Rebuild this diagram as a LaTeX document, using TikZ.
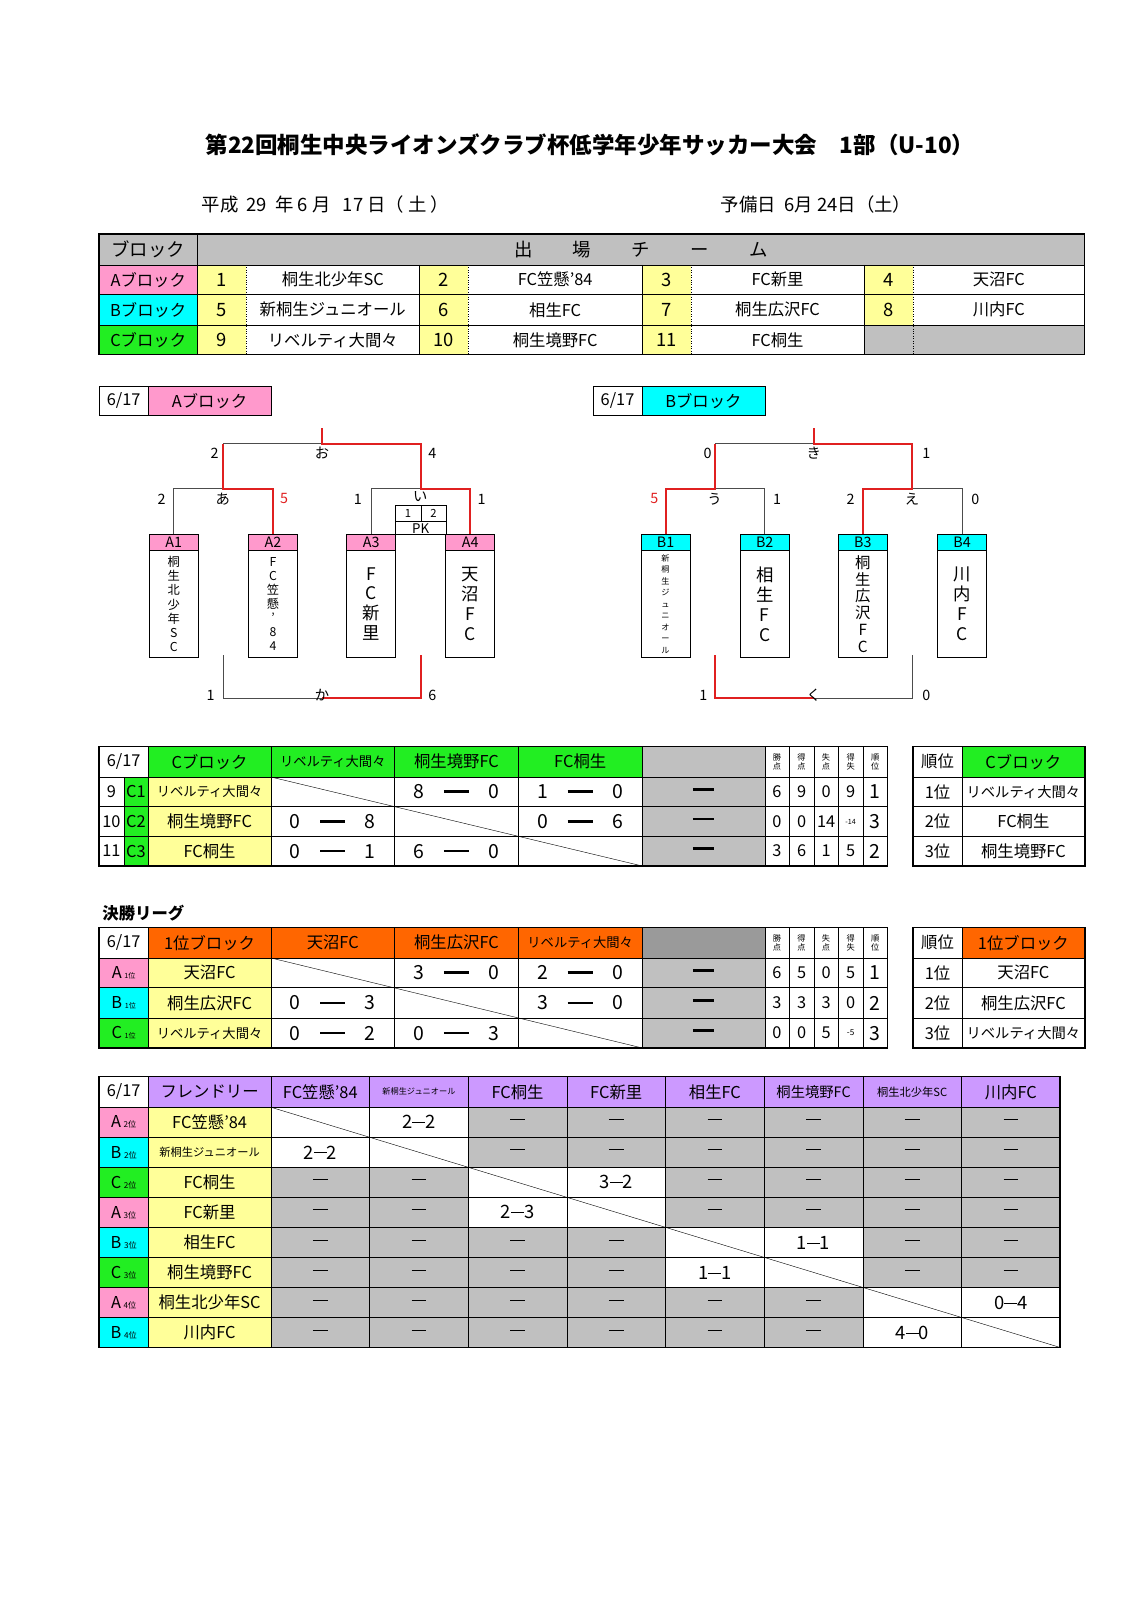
\documentclass[tikz,border=0pt]{standalone}
\usepackage{fontspec}
\setmainfont{Noto Sans CJK JP}
\usetikzlibrary{positioning}
\definecolor{pinkA}{HTML}{FF99CC}
\definecolor{cyanB}{HTML}{00FFFF}
\definecolor{greenC}{HTML}{22EE22}
\definecolor{yel}{HTML}{FFFF99}
\definecolor{gry}{HTML}{C0C0C0}
\definecolor{dgry}{HTML}{9A9A9A}
\definecolor{org}{HTML}{FF6600}
\definecolor{purp}{HTML}{CC99FF}
\definecolor{redL}{HTML}{E02020}
\tikzset{
  txt/.style={inner sep=0pt, font=\fontsize{16}{18}\selectfont},
  sml/.style={inner sep=0pt, font=\fontsize{11}{12}\selectfont},
  wire/.style={draw=black!70, line width=0.9pt},
  win/.style={draw=redL, line width=2pt},
  teamhead/.style={draw, thick, fill=#1, minimum width=48pt, minimum height=15pt, inner sep=0pt, font=\fontsize{14}{14}\selectfont},
  teambody/.style={draw, thick, minimum width=48pt, minimum height=104pt, inner sep=0pt, align=center},
  outer/.style={draw, line width=1.4pt}
}
% cell: x1 y1 x2 y2 fill text
\newcommand\cel[6]{\filldraw[fill=#5, draw=black, thin] (#1,#2) rectangle (#3,#4);
  \node[txt] at ({(#1+#3)/2},{(#2+#4)/2}) {#6};}
\newcommand\bardash{\rule[0.3em]{1.3em}{2.4pt}}
\newcommand\sco[2]{\fontsize{19}{19}\selectfont #1\hspace{1em}\bardash\hspace{1em}#2}
\newcommand\fr[2]{\fontsize{18}{18}\selectfont #1\rule[0.3em]{0.7em}{1pt}#2}
\newcommand\lite{\rule[0.3em]{0.9em}{1pt}}
\newcommand\rk[1]{#1\,{\fontsize{7}{7}\selectfont 1位}}
\begin{document}
\begin{tikzpicture}[x=1pt, y=-1pt]
  \useasboundingbox (0,0) rectangle (1106,1565);

  % title and date
  \node[font=\fontsize{22}{24}\selectfont\bfseries] (title) at (577,142) {第22回桐生中央ライオンズクラブ杯低学年少年サッカー大会　1部（U-10）};
  \node[txt, anchor=west, font=\fontsize{18}{20}\selectfont] (date) at (197,200) {平成\ \ 29\ \ 年 6 月\ \ \ 17 日（ 土 ）};
  \node[txt, anchor=west, font=\fontsize{18}{20}\selectfont] (spare) at (705,200) {予備日\ \ 6月 24日（土）};

  % entry table
  \fill[gry] (97,229) rectangle (1061,259);
  \node[txt, font=\fontsize{18}{20}\selectfont] (hblock) at (145,244) {ブロック};
  \node[txt, font=\fontsize{18}{20}\selectfont] (hteams) at (627,244) {出\hspace{2.2em}場\hspace{2.2em}チ\hspace{2.2em}ー\hspace{2.2em}ム};
  \foreach \ya/\yb/\lab/\col/\na/\nb/\nc/\nd/\ta/\tb/\tc/\td in {
      259/288/A/pinkA/1/2/3/4/桐生北少年SC/FC笠懸’84/FC新里/天沼FC,
      288/318/B/cyanB/5/6/7/8/新桐生ジュニオール/相生FC/桐生広沢FC/川内FC,
      318/347/C/greenC/9/10/11//リベルティ大間々/桐生境野FC/FC桐生/}{
    \fill[\col] (97,\ya) rectangle (193,\yb);
    \node[txt] at (145,{(\ya+\yb)/2}) {\lab ブロック};
    \foreach \xa/\xb/\xc/\n/\t in {193/241/410/\na/\ta, 410/458/628/\nb/\tb, 628/676/845/\nc/\tc, 845/893/1061/\nd/\td}{
      \fill[yel] (\xa,\ya) rectangle (\xb,\yb);
      \node[txt, font=\fontsize{18}{20}\selectfont] at ({(\xa+\xb)/2},{(\ya+\yb)/2}) {\n};
      \node[txt] at ({(\xb+\xc)/2},{(\ya+\yb)/2}) {\t};
    }
  }
  \fill[gry] (845,318) rectangle (1061,347);
  \foreach \y in {259,288,318} \draw[thin] (97,\y) -- (1061,\y);
  \draw[thin] (193,229) -- (193,347);
  \foreach \x in {410,628,845} \draw[thin] (\x,259) -- (\x,347);
  \foreach \x in {241,458,676,893} \draw[thin, dotted] (\x,259) -- (\x,347);
  \draw[outer] (97,229) rectangle (1061,347);

  % block A bracket
  \cel{97}{378}{145}{406}{white}{6/17}
  \cel{145}{378}{265}{406}{pinkA}{Aブロック}
  \node[teamhead=pinkA] (a1) at (170,530.5) {A1};
  \node[teamhead=pinkA] (a2) at (267,530.5) {A2};
  \node[teamhead=pinkA] (a3) at (363,530.5) {A3};
  \node[teamhead=pinkA] (a4) at (460,530.5) {A4};
  \node[teambody, below=0pt of a1, font=\fontsize{12}{13.8}\selectfont] (a1b) {桐\\生\\北\\少\\年\\S\\C};
  \node[teambody, below=0pt of a2, font=\fontsize{12}{13.8}\selectfont] (a2b) {F\\C\\笠\\懸\\’\\8\\4};
  \node[teambody, below=0pt of a3, font=\fontsize{17}{19.5}\selectfont] (a3b) {F\\C\\新\\里};
  \node[teambody, below=0pt of a4, font=\fontsize{17}{19.5}\selectfont] (a4b) {天\\沼\\F\\C};
  \draw[wire] (a1.north) |- (218.5,478);
  \draw[wire] (218.5,434) -- (315,434);
  \draw[wire] (a3.north) |- (411.5,478);
  \draw[wire] (218.5,641) -- (218.5,683) -- (315,683);
  \draw[win] (a2.north) |- (218.5,478) -- (218.5,434);
  \draw[win] (315,419) -- (315,434) -- (411.5,434) -- (411.5,478) -| (a4.north);
  \draw[win] (315,683) -- (411.5,683) -- (411.5,641);
  \draw[thin] (387,494) rectangle (436,523);
  \draw[thin] (387,510) -- (436,510) (411.5,494) -- (411.5,510);
  \node[sml] (pk1) at (399,502) {1};
  \node[sml] (pk2) at (424,502) {2};
  \node[sml, font=\fontsize{13}{13}\selectfont] (pk) at (411.5,517) {PK};
  \foreach \x/\y/\t in {210/443/2, 315/443/お, 423/443/4, 158/488/2, 218/488/あ,
      350/488/1, 411/486/い, 471/488/1, 206/680/1, 315/680/か, 423/680/6}
    \node[txt, font=\fontsize{14}{14}\selectfont] at (\x,\y) {\t};
  \node[txt, font=\fontsize{14}{14}\selectfont, text=redL] (a5) at (278,488) {5};

  % block B bracket
  \cel{580}{378}{628}{406}{white}{6/17}
  \cel{628}{378}{748}{406}{cyanB}{Bブロック}
  \node[teamhead=cyanB] (b1) at (651,530.5) {B1};
  \node[teamhead=cyanB] (b2) at (748,530.5) {B2};
  \node[teamhead=cyanB] (b3) at (844,530.5) {B3};
  \node[teamhead=cyanB] (b4) at (941,530.5) {B4};
  \node[teambody, below=0pt of b1, font=\fontsize{8}{11.2}\selectfont] (b1b) {新\\桐\\生\\ジ\\ュ\\ニ\\オ\\ー\\ル};
  \node[teambody, below=0pt of b2, font=\fontsize{17}{19.5}\selectfont] (b2b) {相\\生\\F\\C};
  \node[teambody, below=0pt of b3, font=\fontsize{15}{16.5}\selectfont] (b3b) {桐\\生\\広\\沢\\F\\C};
  \node[teambody, below=0pt of b4, font=\fontsize{17}{19.5}\selectfont] (b4b) {川\\内\\F\\C};
  \draw[wire] (b2.north) |- (699.5,478);
  \draw[wire] (b4.north) |- (892.5,478);
  \draw[wire] (699.5,434) -- (796,434);
  \draw[wire] (796,683) -- (892.5,683) -- (892.5,641);
  \draw[win] (b1.north) |- (699.5,478) -- (699.5,434);
  \draw[win] (796,419) -- (796,434) -- (892.5,434) -- (892.5,478) -| (b3.north);
  \draw[win] (699.5,641) -- (699.5,683) -- (796,683);
  \foreach \x/\y/\t in {692/443/0, 796/443/き, 906/443/1, 699/488/う, 760/488/1,
      832/488/2, 892/488/え, 954/488/0, 688/680/1, 796/680/く, 906/680/0}
    \node[txt, font=\fontsize{14}{14}\selectfont] at (\x,\y) {\t};
  \node[txt, font=\fontsize{14}{14}\selectfont, text=redL] (b5) at (640,488) {5};

  % block C league
  \cel{97}{730}{145}{760}{white}{6/17}
  \cel{145}{730}{265}{760}{greenC}{Cブロック}
  \cel{265}{730}{386}{760}{greenC}{\fontsize{13}{13}\selectfont リベルティ大間々}
  \cel{386}{730}{507}{760}{greenC}{桐生境野FC}
  \cel{507}{730}{628}{760}{greenC}{FC桐生}
  \cel{628}{730}{748}{760}{gry}{}
  \foreach \x/\t [count=\k] in {748/勝\\点, 772/得\\点, 796/失\\点, 820/得\\失, 844/順\\位}{
    \filldraw[fill=white, thin] (\x,730) rectangle (\x+24,760);
    \node[sml, align=center, font=\fontsize{8}{9}\selectfont] at (\x+12,745) {\t};
  }
  \foreach \ya/\yb/\n/\c/\nm/\sa/\sb/\sc/\pa/\pb/\pc/\pd/\pe in {
      760/789/9/C1/{\fontsize{13}{13}\selectfont リベルティ大間々}//{\sco{8}{0}}/{\sco{1}{0}}/6/9/0/9/1,
      789/818/10/C2/桐生境野FC/{\sco{0}{8}}//{\sco{0}{6}}/0/0/14/{\fontsize{7}{7}\selectfont -14}/3,
      818/847/11/C3/FC桐生/{\sco{0}{1}}/{\sco{6}{0}}//3/6/1/5/2}{
    \cel{97}{\ya}{121}{\yb}{white}{\n}
    \cel{121}{\ya}{145}{\yb}{greenC}{\c}
    \cel{145}{\ya}{265}{\yb}{yel}{\nm}
    \cel{265}{\ya}{386}{\yb}{white}{\sa}
    \cel{386}{\ya}{507}{\yb}{white}{\sb}
    \cel{507}{\ya}{628}{\yb}{white}{\sc}
    \cel{628}{\ya}{748}{\yb}{gry}{\bardash}
    \cel{748}{\ya}{772}{\yb}{white}{\pa}
    \cel{772}{\ya}{796}{\yb}{white}{\pb}
    \cel{796}{\ya}{820}{\yb}{white}{\pc}
    \cel{820}{\ya}{844}{\yb}{white}{\pd}
    \cel{844}{\ya}{868}{\yb}{white}{\fontsize{19}{19}\selectfont\pe}
  }
  \draw[thin] (265,760) -- (628,847);
  \draw[outer] (97,730) rectangle (868,847);
  \cel{893}{730}{941}{760}{white}{順位}
  \cel{941}{730}{1061}{760}{greenC}{Cブロック}
  \foreach \ya/\yb/\r/\nm in {760/789/1/{\fontsize{14}{14}\selectfont リベルティ大間々}, 789/818/2/FC桐生, 818/847/3/桐生境野FC}{
    \cel{893}{\ya}{941}{\yb}{white}{\r 位}
    \cel{941}{\ya}{1061}{\yb}{white}{\nm}
  }
  \draw[outer] (893,730) rectangle (1061,847);

  % final league
  \node[txt, anchor=west, font=\fontsize{16}{18}\selectfont\bfseries] (final) at (100,893) {決勝リーグ};
  \cel{97}{907}{145}{937}{white}{6/17}
  \cel{145}{907}{265}{937}{org}{1位ブロック}
  \cel{265}{907}{386}{937}{org}{天沼FC}
  \cel{386}{907}{507}{937}{org}{桐生広沢FC}
  \cel{507}{907}{628}{937}{org}{\fontsize{13}{13}\selectfont リベルティ大間々}
  \cel{628}{907}{748}{937}{dgry}{}
  \foreach \x/\t in {748/勝\\点, 772/得\\点, 796/失\\点, 820/得\\失, 844/順\\位}{
    \filldraw[fill=white, thin] (\x,907) rectangle (\x+24,937);
    \node[sml, align=center, font=\fontsize{8}{9}\selectfont] at (\x+12,922) {\t};
  }
  \foreach \ya/\yb/\lab/\col/\nm/\sa/\sb/\sc/\pa/\pb/\pc/\pd/\pe in {
      937/966/A/pinkA/天沼FC//{\sco{3}{0}}/{\sco{2}{0}}/6/5/0/5/1,
      966/996/B/cyanB/桐生広沢FC/{\sco{0}{3}}//{\sco{3}{0}}/3/3/3/0/2,
      996/1025/C/greenC/{\fontsize{13}{13}\selectfont リベルティ大間々}/{\sco{0}{2}}/{\sco{0}{3}}//0/0/5/{\fontsize{8}{8}\selectfont -5}/3}{
    \cel{97}{\ya}{145}{\yb}{\col}{\rk{\lab}}
    \cel{145}{\ya}{265}{\yb}{yel}{\nm}
    \cel{265}{\ya}{386}{\yb}{white}{\sa}
    \cel{386}{\ya}{507}{\yb}{white}{\sb}
    \cel{507}{\ya}{628}{\yb}{white}{\sc}
    \cel{628}{\ya}{748}{\yb}{gry}{\bardash}
    \cel{748}{\ya}{772}{\yb}{white}{\pa}
    \cel{772}{\ya}{796}{\yb}{white}{\pb}
    \cel{796}{\ya}{820}{\yb}{white}{\pc}
    \cel{820}{\ya}{844}{\yb}{white}{\pd}
    \cel{844}{\ya}{868}{\yb}{white}{\fontsize{19}{19}\selectfont\pe}
  }
  \draw[thin] (265,937) -- (628,1025);
  \draw[outer] (97,907) rectangle (868,1025);
  \cel{893}{907}{941}{937}{white}{順位}
  \cel{941}{907}{1061}{937}{org}{1位ブロック}
  \foreach \ya/\yb/\r/\nm in {937/966/1/天沼FC, 966/996/2/桐生広沢FC, 996/1025/3/{\fontsize{14}{14}\selectfont リベルティ大間々}}{
    \cel{893}{\ya}{941}{\yb}{white}{\r 位}
    \cel{941}{\ya}{1061}{\yb}{white}{\nm}
  }
  \draw[outer] (893,907) rectangle (1061,1025);

  % friendly matches
  \cel{97}{1053}{145}{1083}{white}{6/17}
  \cel{145}{1053}{265}{1083}{purp}{フレンドリー}
  \foreach \t [count=\k from 0] in {FC笠懸’84, {\fontsize{8}{8}\selectfont 新桐生ジュニオール}, FC桐生, FC新里, 相生FC,
      {\fontsize{14}{14}\selectfont 桐生境野FC}, {\fontsize{11}{11}\selectfont 桐生北少年SC}, 川内FC}{
    \pgfmathsetmacro\xa{265+96.5*\k}
    \cel{\xa}{1053}{\xa+96.5}{1083}{purp}{\t}
  }
  \foreach \lab/\col/\pl/\t [count=\k from 0] in {A/pinkA/2/FC笠懸’84, B/cyanB/2/{\fontsize{11}{11}\selectfont 新桐生ジュニオール},
      C/greenC/2/FC桐生, A/pinkA/3/FC新里, B/cyanB/3/相生FC, C/greenC/3/桐生境野FC,
      A/pinkA/4/桐生北少年SC, B/cyanB/4/川内FC}{
    \pgfmathsetmacro\ya{1083+29.4*\k}
    \cel{97}{\ya}{145}{\ya+29.4}{\col}{\lab\,{\fontsize{8}{8}\selectfont \pl 位}}
    \cel{145}{\ya}{265}{\ya+29.4}{yel}{\t}
    \foreach \j in {0,...,7}{
      \pgfmathtruncatemacro\same{int(\k/2)==int(\j/2)}
      \pgfmathsetmacro\xa{265+96.5*\j}
      \ifnum\same=1
        \filldraw[fill=white, thin] (\xa,\ya) rectangle (\xa+96.5,\ya+29.4);
      \else
        \cel{\xa}{\ya}{\xa+96.5}{\ya+29.4}{gry}{\lite}
      \fi
    }
  }
  \foreach \i/\j/\s in {0/1/{\fr{2}{2}}, 1/0/{\fr{2}{2}}, 2/3/{\fr{3}{2}}, 3/2/{\fr{2}{3}},
      4/5/{\fr{1}{1}}, 5/4/{\fr{1}{1}}, 6/7/{\fr{0}{4}}, 7/6/{\fr{4}{0}}}
    \node[txt] at ({265+96.5*\j+48.25},{1083+29.4*\i+14.7}) {\s};
  \draw[thin] (265,1083) -- (1037,1318);
  \draw[outer] (97,1053) rectangle (1037,1318);
\end{tikzpicture}
\end{document}
